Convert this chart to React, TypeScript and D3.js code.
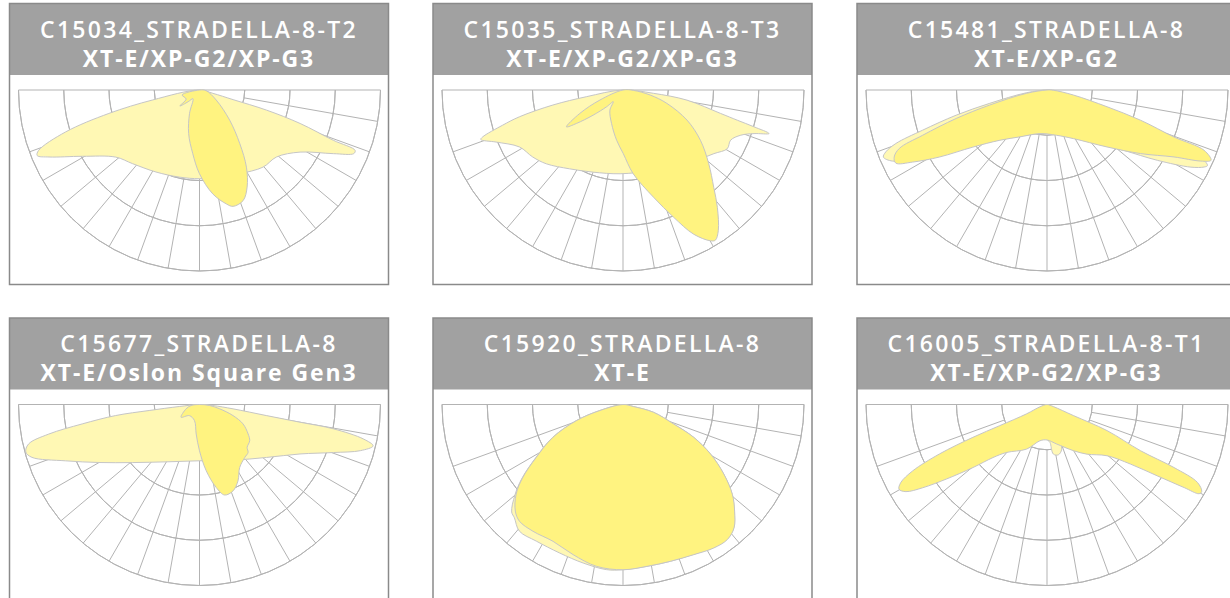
import React from "react";
import * as d3 from "d3";

// ---- Data ----
const panelIds = [
  "C15034_STRADELLA-8-T2",
  "C15035_STRADELLA-8-T3",
  "C15481_STRADELLA-8",
  "C15677_STRADELLA-8",
  "C15920_STRADELLA-8",
  "C16005_STRADELLA-8-T1",
];
const panelLeds = [
  "XT-E/XP-G2/XP-G3",
  "XT-E/XP-G2/XP-G3",
  "XT-E/XP-G2",
  "XT-E/Oslon Square Gen3",
  "XT-E",
  "XT-E/XP-G2/XP-G3",
];

// polar points [gamma angle deg (0 = nadir, + = right), relative intensity %]
const light1 = [[-90,0],[-78,26.5],[-75.5,51.7],[-72.6,77.6],[-69.4,95],[-68,96.7],[-66,91],[-60.5,74.4],[-51.3,59.3],[-42.3,55],[-28,51.3],[-13,49.4],[0,49],[13,49.4],[25.6,51.3],[39.5,55.2],[49,56.4],[58.3,65.3],[64.6,82],[67.6,92.2],[68.8,92.2],[69.4,79],[71.6,58.6],[73.3,38.7],[74,19.3],[76,7.6]];
const dark1 = [[-90,0],[-74,10],[-56,8.9],[-51,14],[-44,9],[-37,6],[-23,14.1],[-14,24.8],[-6,35.4],[0,46.3],[7.3,57.9],[13.3,64.7],[16.1,66.9],[21.5,65.7],[26.1,59.8],[31.3,49.9],[36.9,37.1],[45,23.6],[59,10.8],[84,3.7]];

const light2 = [[-90,0],[-79.6,20.6],[-77.9,39.6],[-75.5,59.1],[-73.7,69.3],[-71.5,81.8],[-70.8,83.2],[-67.7,75.8],[-61.2,65.3],[-53.4,62.1],[-46.1,58.8],[-34.1,52.6],[-20,48.3],[-2,46.3],[20.7,47.5],[41,53.9],[55,61.3],[60.6,66.1],[65,65.6],[69,69.7],[71.6,76.3],[73.4,84.2],[74.3,75.2],[75.2,65.3],[76.5,55.4],[81,35.8],[83.8,16.9]];
const dark2 = [[-90,0],[-66.5,13.9],[-61.5,27.2],[-56.9,37.3],[-54.3,31.7],[-49.9,21.6],[-44.3,12.9],[-39.7,8.4],[-33,13.3],[-18.8,19.6],[-7.2,28],[0.3,35.2],[7,46.7],[15.9,61.6],[21.7,75.7],[26.1,88.7],[30.1,96.3],[31.6,97.4],[34.1,93.9],[38.8,83.2],[43,73.5],[49.3,62.5],[57,51],[64.8,39.1],[73,25.4],[79.5,15.3],[88,5.7]];

const light3 = [[-90,0],[-82.4,11.4],[-76.9,32.5],[-74.5,52.1],[-72.1,72.2],[-70.5,88.6],[-69,95.4],[-67.7,97.7],[-65.3,94],[-62.3,81.7],[-59.4,69.1],[-54.8,54.6],[-47.8,42.8],[-35.8,32],[-24.3,27.4],[0,24.1],[29.4,29.8],[41.9,38.6],[51.8,53.9],[57.5,72.3],[61.8,90.2],[63.9,96.7],[64.8,98],[66.4,92.7],[68.4,75.4],[70.3,54.9],[71.5,34.9],[75.7,15.1],[84,3.6]];
const dark3 = [[-90,0],[-80.8,11.4],[-75.3,32.7],[-72.6,52.6],[-70,73.1],[-68.4,87.8],[-66.3,92.2],[-64.2,92.8],[-61.8,84.3],[-58.1,70.1],[-52.4,51.7],[-43.2,38.1],[-30,29.9],[-9.2,24.4],[12.1,25.6],[28.6,30.6],[46.5,45.7],[55.8,62.5],[62.2,79.3],[65.2,93.6],[66.8,98.6],[69,93],[69.7,74.8],[72.1,54.3],[74.4,34.4],[79.2,14.9],[88,3.5]];

const light4 = [[-90,0],[-84.3,11.2],[-83.2,28],[-82.5,46.7],[-80.6,65.7],[-78.9,84.9],[-77,96.9],[-74.7,99.5],[-72.5,97.1],[-67.2,80.3],[-60,64.1],[-49.1,49],[-30.3,36.7],[0,31.1],[31,35.9],[51.7,47.2],[63.8,61.9],[70.3,78.7],[74,92.5],[76.6,98.6],[78.1,92.7],[79.7,75.3],[80,56.4],[80.6,37.6],[82.6,18.7],[85.7,7.4]];
const dark4 = [[-90,0],[-83,4.7],[-72,7.8],[-55.3,12.4],[-42.3,8.3],[-17.4,9.3],[-6.4,16.4],[0,25.6],[5.8,36.8],[11.4,46.8],[15.5,51.9],[21.2,51.2],[26.7,47.3],[32.5,41.3],[40.5,38.5],[45.4,37.7],[48,35.4],[54.2,34.2],[58.8,31.4],[66,26.3],[71.7,19.5],[77.9,11.4],[84.3,5.6]];

const light5 = [[-90,0],[-75.4,13.5],[-70.9,27.5],[-64.9,43],[-58.6,56.5],[-53.9,69],[-50,78],[-46,85.5],[-43.8,86.7],[-39.3,90.4],[-32.4,89.4],[-23.1,89.2],[-14.1,90.3],[-5.7,91.7],[0,91.3],[8.4,90.4],[16.8,90.5],[25.2,91.5],[32.3,93.5],[37.7,94],[42,91.5],[46.3,85],[50.6,78],[55.4,67.5],[60.5,55.5],[65.1,43],[69,29.8],[75.7,17.3],[79,5.8]];
const dark5 = [[-90,0],[-75.4,13.2],[-70.9,27.2],[-64.9,42.8],[-58.6,56.2],[-53.9,68.6],[-50,77.1],[-45.3,83.7],[-41.6,86.2],[-35.4,85.9],[-27.1,84.9],[-18.4,87.4],[-9.3,90.6],[0,91.3],[8.4,90.4],[16.8,90.5],[25.2,91.7],[32.3,93.8],[37.7,94.3],[42,91.7],[46.3,85.3],[50.6,78.2],[55.4,67.7],[60.5,55.6],[65.1,43.1],[69,29.9],[75.7,17.4],[79,5.8]];

const light6 = [[-90,0],[-40,10],[-10,15],[2,20],[4.5,21],[7.3,27.6],[12.7,28.5],[18.3,26],[22,18],[40,10]];
const dark6 = [[-90,0],[-72,4],[-65.4,12.4],[-65.9,28.6],[-66.1,44.8],[-65.3,65.4],[-63.7,82.8],[-61.9,91.6],[-60.2,94.2],[-58.3,91.6],[-56.2,82.7],[-53.5,69.3],[-49.6,53.8],[-45.5,41.8],[-40.2,34.7],[-24.6,27.1],[-11,20.4],[0,19.6],[13.9,22.5],[29.8,29.4],[38.8,35.2],[49.5,43.6],[54.5,56.7],[57.1,72.6],[58.8,88.6],[59.6,97.4],[60.6,98.1],[62.6,93.7],[63.6,78.3],[63.7,57.7],[66.5,36.2],[67.3,15.8],[72,3.7]];

const lightCurves = [light1, light2, light3, light4, light5, light6];
const darkCurves = [dark1, dark2, dark3, dark4, dark5, dark6];

const ringValues = [25, 50, 75, 100];
const radialAngles = [-70, -60, -50, -40, -30, -20, -10, 0, 10, 20, 30, 40, 50, 60, 70, 80];

// ---- Layout ----
const W = 1230;
const H = 598;
const PANEL_W = 379;
const PANEL_H = 300;
const HEADER_H = 71.5;
const colX = [9.5, 433, 857];
const rowY = [3.5, 318];
const R = 181;

const rScale = d3.scaleLinear().domain([0, 100]).range([0, R]);
const toRad = (deg: number) => (deg * Math.PI) / 180;

const radialLine = d3
  .lineRadial<number[]>()
  .angle((d) => Math.PI - toRad(d[0]))
  .radius((d) => rScale(d[1]))
  .curve(d3.curveCatmullRomClosed.alpha(0.5));

function polarXY(deg: number, r: number) {
  const t = toRad(deg);
  return [r * Math.sin(t), r * Math.cos(t)];
}

function Grid() {
  const arc = d3
    .arc<any>()
    .innerRadius((d: any) => d.r)
    .outerRadius((d: any) => d.r)
    .startAngle(Math.PI / 2)
    .endAngle((3 * Math.PI) / 2);
  return (
    <g stroke="#b3b3b3" strokeWidth={1} fill="none">
      {ringValues.map((v) => (
        <path key={v} d={arc({ r: rScale(v) }) as string} />
      ))}
      <line x1={-R} y1={0} x2={R} y2={0} />
      {radialAngles.map((a) => {
        const [x1, y1] = polarXY(a, rScale(ringValues[0]));
        const [x2, y2] = polarXY(a, R);
        return <line key={a} x1={x1} y1={y1} x2={x2} y2={y2} />;
      })}
    </g>
  );
}

function Panel({ i }: { i: number }) {
  const x0 = colX[i % 3];
  const y0 = rowY[Math.floor(i / 3)];
  const cx = PANEL_W / 2 + 0.5;
  const cy = 86.5;
  return (
    <g transform={`translate(${x0},${y0})`}>
      <rect x={0} y={0} width={PANEL_W} height={PANEL_H} fill="#ffffff" />
      <rect x={0} y={0} width={PANEL_W} height={HEADER_H} fill="#a1a1a1" />
      <text
        x={PANEL_W / 2}
        y={34}
        textAnchor="middle"
        fill="#ffffff"
        fontFamily="'Open Sans', sans-serif"
        fontWeight={600}
        fontSize={23}
        letterSpacing={2.3}
      >
        {panelIds[i]}
      </text>
      <text
        x={PANEL_W / 2}
        y={63}
        textAnchor="middle"
        fill="#ffffff"
        fontFamily="'Open Sans', sans-serif"
        fontWeight={700}
        fontSize={23}
        letterSpacing={1.9}
      >
        {panelLeds[i]}
      </text>
      <g transform={`translate(${cx},${cy})`}>
        <Grid />
        <path d={radialLine(lightCurves[i] as any) as string} fill="#fff8b4" stroke="#c6c6c6" strokeWidth={1} />
        <path d={radialLine(darkCurves[i] as any) as string} fill="#fff380" stroke="#c6c6c6" strokeWidth={1} />
      </g>
      <rect
        x={0}
        y={0}
        width={PANEL_W}
        height={i < 3 ? 281 : PANEL_H}
        fill="none"
        stroke="#8a8a8a"
        strokeWidth={1.5}
      />
    </g>
  );
}

export default function App() {
  return (
    <div style={{ position: "absolute", left: 0, top: 0 }}>
      <svg width={W} height={H} style={{ display: "block" }}>
        <rect width={W} height={H} fill="#ffffff" />
        {[0, 1, 2, 3, 4, 5].map((i) => (
          <Panel key={i} i={i} />
        ))}
      </svg>
    </div>
  );
}
